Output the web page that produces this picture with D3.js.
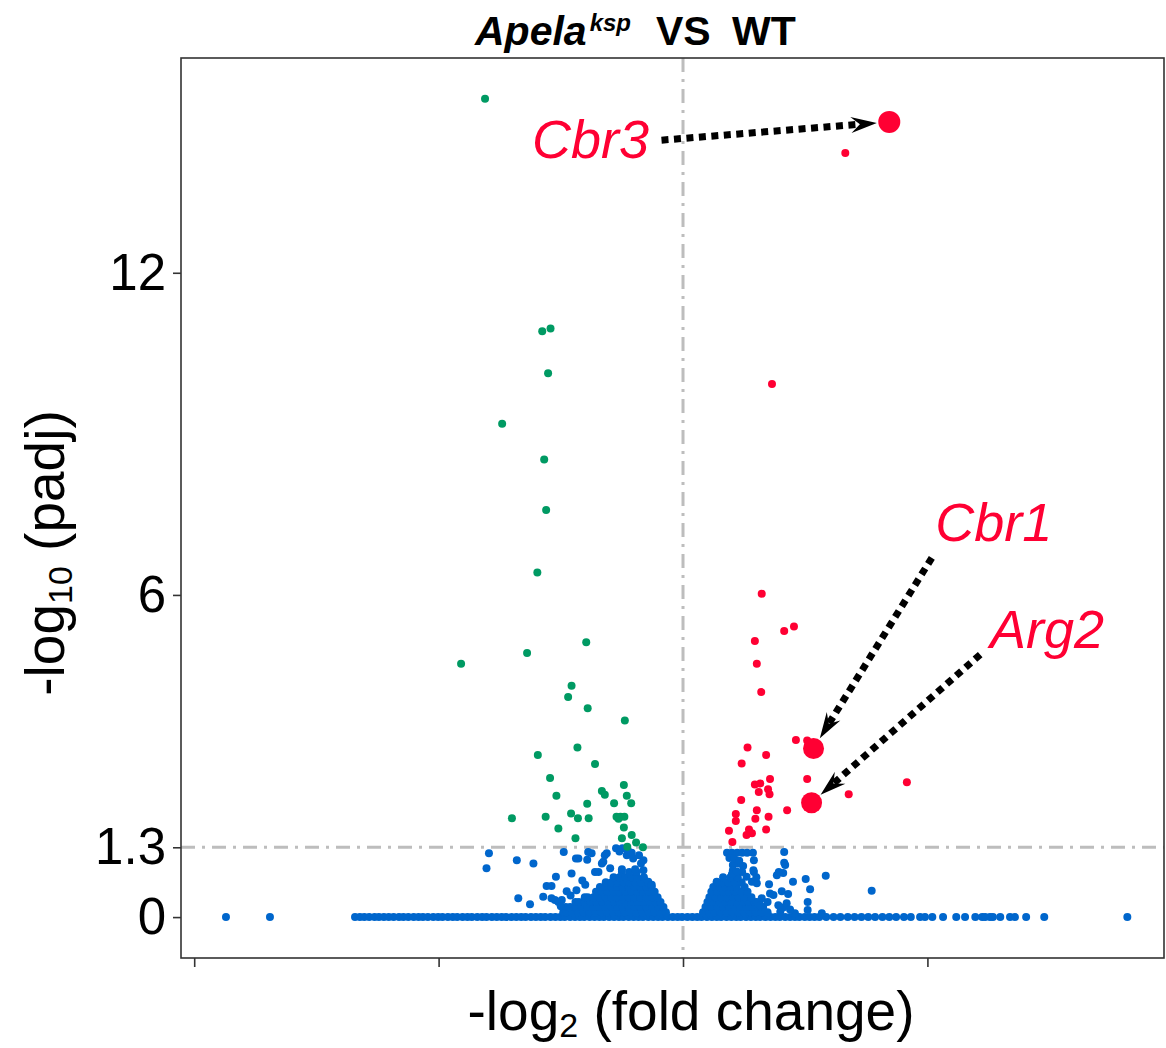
<!DOCTYPE html>
<html>
<head>
<meta charset="utf-8">
<script src="https://d3js.org/d3.v7.min.js"></script>
<style>
  body { margin: 0; background: #fff; }
  svg { display: block; font-family: "Liberation Sans", Arial, sans-serif; }
</style>
</head>
<body>
<div id="chart"></div>
<script>
// tick values (x ticks carry no labels in the figure)
const yTicks = [0, 1.3, 6, 12];
const xTicks = [-10, -5, 0, 5];
const padjCut = 1.3;

// non-significant genes lying on padj = 1 (y = 0)
const blueBaseline = [-9.35, -8.45,
  -6.71, -6.61, -6.52, -6.42, -6.31, -6.22, -6.12, -6.02, -5.92, -5.81, -5.72, -5.62, -5.51, -5.41, -5.32, -5.22,
  -5.11, -5.01, -4.92, -4.81, -4.71, -4.62, -4.51, -4.41, -4.32, -4.21, -4.11, -4.02, -3.91, -3.81, -3.71, -3.62,
  -3.51, -3.41, -3.31, -3.22, -3.11, -3.01, -2.91, -2.82, -2.71, -2.61, -2.51, -2.42, -2.31, -2.21, -2.11, -2.02,
  -1.91, -1.81, -1.71, -1.62, -1.51, -1.41, -1.31, -1.22, -1.11, -1.01, -0.91, -0.82, -0.71, -0.61, -0.51, -0.42,
  -0.31, -0.21, -0.11, -0.02, 0.09, 0.19, 0.29, 0.38, 0.49, 0.59, 0.69, 0.78, 0.89, 0.99, 1.09, 1.18, 1.29, 1.39,
  1.49, 1.58, 1.69, 1.79, 1.89, 1.98, 2.09, 2.19, 2.29, 2.38, 2.49, 2.59, 2.69, 2.79,
  2.93, 3.08, 3.22, 3.37, 3.51, 3.65, 3.79, 3.93, 4.08, 4.22, 4.36, 4.52, 4.66, 4.85, 4.95, 5.10, 5.32, 5.59,
  5.77, 5.98, 6.12, 6.18, 6.28, 6.34, 6.49, 6.69, 6.79, 7.02, 7.39, 9.09];

// the two dense, overplotted clouds of non-significant genes, read row by row
const blueLeftCloud = [
  [0.09, [-2.45, -2.39, -2.27, -2.15, -2.03, -1.91, -1.79, -1.67, -1.55, -1.43, -1.31, -1.19, -1.07, -0.95, -0.83, -0.71, -0.59, -0.47, -0.35]],
  [0.19, [-2.40, -2.31, -2.19, -2.07, -1.95, -1.83, -1.71, -1.59, -1.47, -1.35, -1.23, -1.11, -0.99, -0.87, -0.75, -0.63, -0.51, -0.40]],
  [0.28, [-2.20, -2.13, -2.01, -1.89, -1.77, -1.65, -1.53, -1.41, -1.29, -1.17, -1.05, -0.93, -0.81, -0.69, -0.57, -0.46]],
  [0.37, [-2.01, -1.95, -1.83, -1.71, -1.59, -1.47, -1.35, -1.23, -1.11, -0.99, -0.87, -0.75, -0.63, -0.52]],
  [0.47, [-1.78, -1.66, -1.54, -1.42, -1.30, -1.18, -1.06, -0.94, -0.82, -0.70, -0.58]],
  [0.56, [-1.70, -1.59, -1.47, -1.35, -1.23, -1.11, -0.99, -0.87, -0.75, -0.64]],
  [0.65, [-1.58, -1.46, -1.34, -1.22, -1.10, -0.98, -0.86, -0.73]],
  [0.74, [-1.42, -1.30, -1.18, -1.06, -0.94, -0.80]],
  [0.84, [-1.25, -1.10, -0.95]]
];
const blueRightCloud = [
  [0.09, [0.41, 0.53, 0.65, 0.77, 0.89, 1.01, 1.13, 1.25, 1.37, 1.49, 1.61, 1.73]],
  [0.19, [0.46, 0.58, 0.70, 0.82, 0.94, 1.06, 1.18, 1.30, 1.42, 1.54, 1.64]],
  [0.28, [0.50, 0.62, 0.74, 0.86, 0.98, 1.10, 1.22, 1.34, 1.46, 1.51]],
  [0.37, [0.54, 0.66, 0.78, 0.90, 1.02, 1.14, 1.26, 1.40]],
  [0.47, [0.58, 0.70, 0.82, 0.94, 1.06, 1.18, 1.32]],
  [0.56, [0.62, 0.74, 0.86, 0.98, 1.10, 1.26]],
  [0.65, [0.69, 0.81, 0.93, 1.05, 1.20]],
  [0.74, [0.82, 0.97, 1.12]]
];

// scattered non-significant genes [log2FC, -log10 padj]
const blueScatter = [
  [-3.97, 1.19], [-4.02, 0.91], [-3.40, 1.06], [-3.06, 1.00], [-2.44, 1.21], [-2.19, 1.09], [-2.14, 1.09],
  [-1.94, 1.21], [-1.87, 1.19], [-1.96, 1.07], [-1.60, 1.15], [-1.56, 1.19], [-1.37, 1.28], [-1.24, 1.28],
  [-1.15, 1.15], [-1.02, 1.09], [-0.81, 1.06], [-1.66, 1.00], [-1.63, 1.03], [-1.80, 0.84], [-1.73, 0.84],
  [-1.49, 0.91], [-1.25, 0.89], [-0.98, 0.89], [-0.81, 0.87], [-2.60, 0.75], [-2.28, 0.81], [-2.06, 0.68],
  [-2.79, 0.58], [-2.69, 0.58], [-2.38, 0.48], [-2.18, 0.50], [-3.37, 0.35], [-3.13, 0.24], [-2.86, 0.38],
  [-2.69, 0.35], [-2.62, 0.32], [-2.55, 0.28], [-2.48, 0.32], [-0.71, 0.66], [-0.64, 0.60], [-1.13, 1.25],
  [-1.30, 1.22], [-1.05, 1.20], [-0.90, 1.15], [-0.86, 1.00], [-2.50, 0.20], [-2.30, 0.40], [-2.00, 0.60],
  [0.90, 1.20], [1.00, 1.20], [1.11, 1.20], [1.21, 1.20], [1.31, 1.20], [1.43, 1.20], [2.07, 1.21],
  [1.45, 1.06], [2.07, 1.01], [2.09, 0.97], [1.02, 0.97], [1.13, 1.00], [1.23, 0.95], [1.02, 0.87],
  [1.21, 0.84], [1.45, 0.84], [2.05, 0.82], [1.92, 0.78], [0.69, 0.66], [1.41, 0.66], [1.51, 0.63],
  [1.76, 0.61], [2.25, 0.66], [2.51, 0.71], [2.92, 0.77], [2.60, 0.52], [2.02, 0.48], [2.15, 0.43],
  [3.86, 0.49], [1.78, 0.44], [1.85, 0.41], [1.61, 0.35], [1.73, 0.28], [2.55, 0.28], [1.95, 0.22],
  [2.05, 0.18], [2.12, 0.26], [2.55, 0.13], [1.58, 0.22], [2.29, 0.07], [2.84, 0.07], [1.99, 0.10],
  [2.19, 0.14], [1.96, 0.84], [1.44, 0.87], [0.95, 1.10], [1.05, 1.08], [1.15, 1.05], [1.00, 0.80],
  [1.10, 0.85], [1.30, 0.75], [1.50, 0.74]
];

// significantly down genes (green)
const greenGenes = [
  [-4.05, 15.24], [-2.88, 10.91], [-2.71, 10.96], [-2.76, 10.13], [-3.70, 9.19], [-2.84, 8.52], [-2.80, 7.58],
  [-2.98, 6.42], [-1.98, 5.12], [-3.19, 4.92], [-4.54, 4.72], [-2.28, 4.31], [-2.35, 4.10], [-1.95, 3.89],
  [-1.19, 3.66], [-2.16, 3.16], [-2.97, 3.02], [-1.80, 2.85], [-2.72, 2.59], [-1.21, 2.46], [-1.66, 2.35],
  [-1.60, 2.28], [-2.59, 2.26], [-1.15, 2.26], [-1.06, 2.12], [-1.41, 2.12], [-1.96, 2.11], [-3.50, 1.84],
  [-2.81, 1.87], [-2.29, 1.93], [-2.15, 1.84], [-1.93, 1.84], [-1.36, 1.87], [-1.28, 1.87], [-1.20, 1.87],
  [-1.32, 1.83], [-1.21, 1.67], [-2.55, 1.65], [-1.05, 1.53], [-1.25, 1.47], [-2.20, 1.47], [-0.96, 1.39],
  [-0.82, 1.30], [-1.14, 1.31]
];

// significantly up genes (red)
const redGenes = [
  [3.32, 14.23], [1.82, 9.93], [1.61, 6.02], [2.07, 5.33], [2.27, 5.41], [1.47, 5.14], [1.51, 4.72],
  [1.60, 4.19], [2.31, 3.30], [2.54, 3.29], [1.32, 3.16], [1.70, 3.02], [1.20, 2.86], [1.78, 2.57],
  [2.54, 2.57], [1.47, 2.47], [1.58, 2.49], [1.74, 2.38], [1.55, 2.33], [1.77, 2.29], [3.39, 2.29],
  [4.58, 2.51], [1.19, 2.18], [2.13, 1.99], [1.51, 1.99], [1.08, 1.92], [1.08, 1.79], [1.48, 1.83],
  [1.75, 1.87], [0.94, 1.61], [1.35, 1.63], [1.70, 1.63], [1.30, 1.53], [1.41, 1.56], [1.01, 1.40]
];

// labelled genes: point, label anchor, arrow start
const geneNames = ["Cbr3", "Cbr1", "Arg2"];
const genePoints = [[4.22, 14.81], [2.67, 3.14], [2.63, 2.13]];
const labelAnchors = [[-3.09, 14.14], [5.16, 7.01], [6.28, 5.02]];
const arrowStarts = [[-0.44, 14.47], [5.09, 6.69], [6.08, 4.89]];

const blue = "#0066cc", green = "#009a63", red = "#ff0033";

const margin = { top: 58, right: 2, bottom: 90, left: 181 };
const width = 1166 - margin.left - margin.right;
const height = 1048 - margin.top - margin.bottom;

const svg = d3.select("#chart")
  .append("svg")
    .attr("width", 1166)
    .attr("height", 1048);

const g = svg.append("g")
  .attr("transform", `translate(${margin.left}, ${margin.top})`);

const x = d3.scaleLinear().domain([-10.27, 9.84]).range([0, width]);
const y = d3.scaleLinear().domain([-0.762, 16.0]).range([height, 0]);

// reference lines
const refStyle = sel => sel.attr("stroke", "#bdbdbd").attr("stroke-width", 3)
  .attr("stroke-dasharray", "14 7 3 7");
g.append("line").attr("x1", 0).attr("x2", width)
  .attr("y1", y(padjCut)).attr("y2", y(padjCut)).call(refStyle);
g.append("line").attr("x1", x(0)).attr("x2", x(0))
  .attr("y1", 0).attr("y2", height).call(refStyle);

// points
const blueAll = blueBaseline.map(v => [v, 0])
  .concat(blueLeftCloud.flatMap(([yy, xs]) => xs.map(v => [v, yy])))
  .concat(blueRightCloud.flatMap(([yy, xs]) => xs.map(v => [v, yy])))
  .concat(blueScatter);

function dots(data, color, r) {
  g.append("g").selectAll("circle")
    .data(data)
    .join("circle")
      .attr("cx", d => x(d[0]))
      .attr("cy", d => y(d[1]))
      .attr("r", r)
      .attr("fill", color);
}
dots(blueAll, blue, 4);
dots(greenGenes, green, 4);
dots(redGenes, red, 4);

const bigR = [11, 10.5, 10.5];
g.append("g").selectAll("circle")
  .data(genePoints)
  .join("circle")
    .attr("cx", d => x(d[0]))
    .attr("cy", d => y(d[1]))
    .attr("r", (d, i) => bigR[i])
    .attr("fill", red);

// annotation arrows
const ann = g.append("g");
geneNames.forEach((name, i) => {
  const x0 = x(arrowStarts[i][0]), y0 = y(arrowStarts[i][1]);
  const px = x(genePoints[i][0]), py = y(genePoints[i][1]);
  const dx = px - x0, dy = py - y0, len = Math.hypot(dx, dy);
  const ux = dx / len, uy = dy / len;
  const tipX = px - ux * (bigR[i] + 1.5), tipY = py - uy * (bigR[i] + 1.5);
  const angle = Math.atan2(dy, dx) * 180 / Math.PI;
  ann.append("line")
    .attr("x1", x0).attr("y1", y0)
    .attr("x2", tipX - ux * 17).attr("y2", tipY - uy * 17)
    .attr("stroke", "#000")
    .attr("stroke-width", 7)
    .attr("stroke-dasharray", "7 5.5");
  ann.append("path")
    .attr("d", "M0,0 L-26,-8 L-17,0 L-26,8 Z")
    .attr("fill", "#000")
    .attr("transform", `translate(${tipX},${tipY}) rotate(${angle})`);
  ann.append("text")
    .attr("x", x(labelAnchors[i][0]))
    .attr("y", y(labelAnchors[i][1]))
    .attr("fill", red)
    .style("font-size", "54px")
    .style("font-style", "italic")
    .text(name);
});

// axes
const yAxis = g.append("g")
  .call(d3.axisLeft(y).tickValues(yTicks).tickFormat(d3.format("")).tickSize(8).tickPadding(7));
yAxis.select(".domain").remove();
yAxis.selectAll(".tick line").attr("stroke", "#333").attr("stroke-width", 1.6);
yAxis.selectAll(".tick text")
  .attr("fill", "#000")
  .style("font-size", "51px")
  .style("font-family", "'Liberation Sans', Arial, sans-serif");

const xAxis = g.append("g")
  .attr("transform", `translate(0, ${height})`)
  .call(d3.axisBottom(x).tickValues(xTicks).tickFormat("").tickSize(9));
xAxis.select(".domain").remove();
xAxis.selectAll(".tick line").attr("stroke", "#333").attr("stroke-width", 1.6);

// panel border
g.append("rect")
  .attr("width", width).attr("height", height)
  .attr("fill", "none")
  .attr("stroke", "#333")
  .attr("stroke-width", 1.6);

// title
const title = svg.append("text")
  .attr("x", 475).attr("y", 45)
  .style("font-size", "41px")
  .style("font-weight", "bold");
title.append("tspan").style("font-style", "italic").text("Apela");
title.append("tspan").style("font-style", "italic").style("font-size", "24px")
  .attr("dx", 3).attr("dy", -14).text("ksp");
title.append("tspan").attr("x", 656).attr("y", 45).text("VS");
title.append("tspan").attr("x", 732).attr("y", 45).text("WT");

// axis titles
const xt = svg.append("text")
  .attr("x", margin.left + x(0) + 8).attr("y", 1030)
  .attr("text-anchor", "middle")
  .style("font-size", "55px");
xt.append("tspan").text("-log");
xt.append("tspan").style("font-size", "34px").attr("dy", 7).text("2");
xt.append("tspan").attr("dy", -7).text(" (fold change)");

const yt = svg.append("text")
  .attr("transform", "translate(64, 553) rotate(-90)")
  .attr("text-anchor", "middle")
  .style("font-size", "55px");
yt.append("tspan").text("-log");
yt.append("tspan").style("font-size", "34px").attr("dy", 8).text("10");
yt.append("tspan").attr("dy", -8).text(" (padj)");
</script>
</body>
</html>
